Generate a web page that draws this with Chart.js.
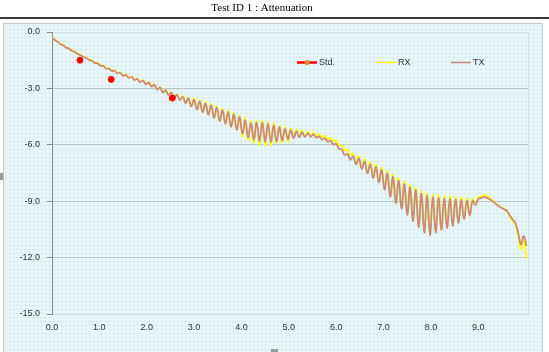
<!DOCTYPE html>
<html>
<head>
<meta charset="utf-8">
<script src="https://cdn.jsdelivr.net/npm/chart.js@4.4.1/dist/chart.umd.min.js"></script>
<style>
  html,body{margin:0;padding:0;background:#fff;}
  #chart{display:block;}
</style>
</head>
<body>
<canvas id="chart" width="549" height="352"></canvas>
<script>
// CHART DATA
const TITLE = 'Test ID 1 : Attenuation';
const SERIES_NAMES = ['Std.', 'RX', 'TX'];
const X_TICKS = [0, 1, 2, 3, 4, 5, 6, 7, 8, 9];
const Y_TICKS = [0, -3, -6, -9, -12, -15];

// Std. reference points (length, dB)
const STD_X = [0.59, 1.25, 2.54];
const STD_Y = [-1.50, -2.52, -3.51];

// sweep samples, one every 0.06 on the x axis
const X_STEP = 0.06;
const TX = [
  -0.30,-0.42,-0.53,-0.65,-0.72,-0.83,-0.89,-1.00,-1.06,-1.17,
  -1.23,-1.33,-1.38,-1.48,-1.53,-1.64,-1.67,-1.79,-1.81,-1.94,
  -1.95,-2.07,-2.06,-2.20,-2.17,-2.33,-2.28,-2.44,-2.39,-2.55,
  -2.49,-2.67,-2.59,-2.78,-2.69,-2.90,-2.81,-3.06,-2.96,-3.22,
  -3.10,-3.36,-3.22,-3.49,-3.34,-3.62,-3.44,-3.79,-3.52,-3.96,
  -3.60,-4.12,-3.70,-4.26,-3.80,-4.40,-3.91,-4.56,-4.03,-4.72,
  -4.15,-4.88,-4.27,-5.04,-4.39,-5.20,-4.53,-5.40,-4.69,-5.60,
  -4.85,-5.74,-4.82,-5.81,-4.82,-5.84,-4.88,-5.85,-4.96,-5.82,
  -5.05,-5.77,-5.14,-5.71,-5.22,-5.65,-5.28,-5.60,-5.33,-5.58,
  -5.38,-5.57,-5.44,-5.62,-5.55,-5.72,-5.66,-5.83,-5.80,-5.98,
  -5.95,-6.22,-6.25,-6.55,-6.49,-6.80,-6.61,-7.04,-6.73,-7.28,
  -6.88,-7.52,-7.03,-7.76,-7.18,-8.00,-7.34,-8.38,-7.52,-8.76,
  -7.70,-9.10,-7.91,-9.40,-8.10,-9.73,-8.25,-10.06,-8.42,-10.39,
  -8.60,-10.67,-8.72,-10.81,-8.79,-10.67,-8.83,-10.53,-8.86,-10.43,
  -8.88,-10.33,-8.91,-10.16,-8.94,-9.95,-8.97,-9.75,-8.99,-9.21,
  -8.88,-8.83,-8.78,-8.81,-8.90,-9.00,-9.12,-9.24,-9.34,-9.42,
  -9.50,-9.74,-9.96,-10.14,-10.64,-11.30,-10.85,-11.40
];
const RX = [
  -0.28,-0.41,-0.50,-0.64,-0.69,-0.82,-0.86,-0.99,-1.03,-1.16,
  -1.20,-1.32,-1.35,-1.47,-1.50,-1.63,-1.64,-1.78,-1.78,-1.93,
  -1.92,-2.06,-2.03,-2.19,-2.14,-2.32,-2.25,-2.43,-2.36,-2.54,
  -2.46,-2.66,-2.56,-2.77,-2.66,-2.89,-2.78,-3.05,-2.93,-3.21,
  -3.07,-3.35,-3.19,-3.48,-3.31,-3.61,-3.41,-3.78,-3.49,-3.95,
  -3.52,-4.12,-3.62,-4.26,-3.72,-4.40,-3.83,-4.56,-3.95,-4.72,
  -4.07,-4.88,-4.19,-5.04,-4.31,-5.20,-4.45,-5.55,-4.59,-5.75,
  -4.75,-5.89,-4.72,-6.01,-4.72,-6.04,-4.78,-6.05,-4.86,-5.92,
  -4.99,-5.87,-5.08,-5.81,-5.14,-5.57,-5.20,-5.52,-5.25,-5.50,
  -5.30,-5.49,-5.36,-5.54,-5.45,-5.61,-5.53,-5.69,-5.65,-5.81,
  -5.77,-6.02,-6.03,-6.31,-6.24,-6.55,-6.48,-7.01,-6.60,-7.25,
  -6.75,-7.49,-6.90,-7.73,-7.05,-7.97,-7.21,-8.35,-7.39,-8.73,
  -7.57,-9.07,-7.78,-9.37,-7.97,-9.70,-8.12,-10.03,-8.29,-10.36,
  -8.47,-10.64,-8.59,-10.78,-8.66,-10.64,-8.70,-10.50,-8.73,-10.40,
  -8.75,-10.30,-8.78,-10.13,-8.81,-9.92,-8.84,-9.72,-8.86,-9.18,
  -8.80,-8.75,-8.68,-8.72,-8.83,-8.95,-9.09,-9.21,-9.31,-9.40,
  -9.50,-9.82,-10.04,-10.22,-10.79,-11.55,-11.05,-12.05
];

const COLORS = {std: '#ff0000', rx: '#ffff00', tx: '#c98a80'};

function toPoints(values){
  return values.map((v, i) => ({x: +(i * X_STEP).toFixed(2), y: v}));
}

// frame, title and background texture
const framePlugin = {
  id: 'frame',
  beforeDraw(chart){
    const ctx = chart.ctx;
    ctx.save();
    ctx.fillStyle = '#fff';
    ctx.fillRect(0, 0, 549, 352);
    ctx.fillStyle = '#000';
    ctx.font = '11px "Liberation Serif", serif';
    ctx.textAlign = 'center';
    ctx.textBaseline = 'middle';
    ctx.fillText(TITLE, 262, 8);
    ctx.fillStyle = '#3a3a3a';
    ctx.fillRect(0, 17, 549, 2);
    // chart box
    ctx.fillStyle = '#eaf6f7';
    ctx.fillRect(3, 23, 540, 330);
    ctx.strokeStyle = 'rgba(200,226,230,0.35)';
    ctx.lineWidth = 1;
    ctx.beginPath();
    for(let x = 5; x < 543; x += 4){ ctx.moveTo(x + 0.5, 23); ctx.lineTo(x + 0.5, 352); }
    for(let y = 25; y < 352; y += 4){ ctx.moveTo(3, y + 0.5); ctx.lineTo(543, y + 0.5); }
    ctx.stroke();
    ctx.strokeStyle = '#c4c8c8';
    ctx.strokeRect(3.5, 23.5, 539, 340);
    // plot area outline
    const a = chart.chartArea;
    ctx.strokeStyle = '#d6e4e6';
    ctx.strokeRect(a.left + 0.5, a.top + 0.5, a.right - a.left, a.bottom - a.top);
    // selection handles
    ctx.fillStyle = '#9a9a9a';
    ctx.fillRect(271, 349, 7, 3);
    ctx.fillRect(0, 173, 3, 7);
    ctx.restore();
  }
};

// legend inside the plot area
const legendPlugin = {
  id: 'innerLegend',
  afterDatasetsDraw(chart){
    const ctx = chart.ctx;
    const y = 62;
    const items = [
      {name: SERIES_NAMES[0], color: COLORS.std, x: 297, w: 2.5, marker: true},
      {name: SERIES_NAMES[1], color: COLORS.rx, x: 376, w: 1.5},
      {name: SERIES_NAMES[2], color: COLORS.tx, x: 451, w: 1.5}
    ];
    ctx.save();
    ctx.font = '9px "Liberation Sans", sans-serif';
    ctx.textBaseline = 'middle';
    ctx.textAlign = 'left';
    items.forEach(it => {
      ctx.strokeStyle = it.color;
      ctx.lineWidth = it.w;
      ctx.beginPath();
      ctx.moveTo(it.x, y + 0.5);
      ctx.lineTo(it.x + 20, y + 0.5);
      ctx.stroke();
      if(it.marker){
        ctx.fillStyle = '#d8873a';
        ctx.beginPath();
        ctx.arc(it.x + 10, y + 0.5, 2.5, 0, Math.PI * 2);
        ctx.fill();
      }
      ctx.fillStyle = '#333';
      ctx.fillText(it.name, it.x + 22, y + 1);
    });
    ctx.restore();
  }
};

const ctx = document.getElementById('chart').getContext('2d');
new Chart(ctx, {
  type: 'line',
  data: {
    datasets: [
      {label: SERIES_NAMES[0], data: STD_X.map((x, i) => ({x, y: STD_Y[i]})), showLine: false,
        pointRadius: 3, pointBackgroundColor: COLORS.std, pointBorderColor: COLORS.std, borderColor: COLORS.std},
      {label: SERIES_NAMES[2], data: toPoints(TX), borderColor: COLORS.tx, borderWidth: 1.8,
        pointRadius: 0, tension: 0.4, fill: false},
      {label: SERIES_NAMES[1], data: toPoints(RX), borderColor: COLORS.rx, borderWidth: 1.8,
        pointRadius: 0, tension: 0.4, fill: false}
    ]
  },
  options: {
    responsive: false,
    animation: false,
    devicePixelRatio: 1,
    layout: {padding: {left: 3, top: 32, right: 21, bottom: 0}},
    plugins: {legend: {display: false}, tooltip: {enabled: false}},
    scales: {
      x: {
        type: 'linear', min: 0, max: 10.05,
        afterBuildTicks: s => { s.ticks = X_TICKS.map(v => ({value: v})); },
        afterFit: s => { s.height = 38; },
        grid: {display: false, drawTicks: false},
        border: {display: true, color: '#d0dfe1'},
        ticks: {callback: v => v.toFixed(1), color: '#333', font: {size: 9, family: '"Liberation Sans", sans-serif'},
          padding: 8, maxRotation: 0, autoSkip: false}
      },
      y: {
        type: 'linear', min: -15, max: 0,
        afterBuildTicks: s => { s.ticks = Y_TICKS.map(v => ({value: v})); },
        afterFit: s => { s.width = 49; },
        grid: {
          color: c => (c.tick && (c.tick.value === 0 || c.tick.value === -15)) ? 'rgba(0,0,0,0)' : '#bcc7c8',
          tickColor: '#8c8c8c', tickLength: 5
        },
        border: {display: true, color: '#8c8c8c'},
        ticks: {callback: v => v.toFixed(1), color: '#333', font: {size: 9, family: '"Liberation Sans", sans-serif'},
          padding: 7}
      }
    }
  },
  plugins: [framePlugin, legendPlugin]
});
</script>
</body>
</html>
